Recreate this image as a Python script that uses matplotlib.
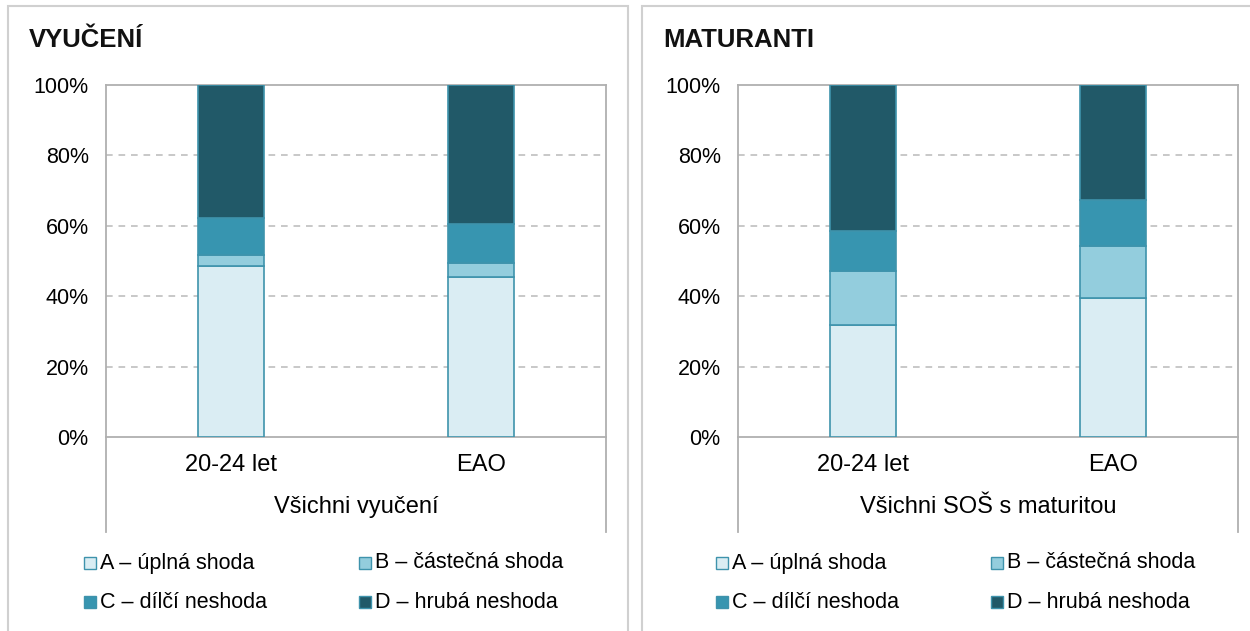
# plot_shoda.py
# two stacked 100% bar panels: VYUČENÍ / MATURANTI

import matplotlib
matplotlib.use("Agg")
import matplotlib.pyplot as plt
from matplotlib.patches import Rectangle
from matplotlib.lines import Line2D
import matplotlib.transforms as mtransforms

plt.rcParams['font.family'] = ['Liberation Sans', 'DejaVu Sans']

categories = ["20-24 let", "EAO"]
series = ["A – úplná shoda", "B – částečná shoda",
          "C – dílčí neshoda", "D – hrubá neshoda"]
colors = ["#DAEDF3", "#93CDDD", "#3795B0", "#215968"]
edge = "#3E93AC"

# shares in %, one list per series, order = categories
vyuc_A = [48.6, 45.5]
vyuc_B = [3.1, 3.9]
vyuc_C = [10.5, 11.1]
vyuc_D = [37.8, 39.5]

mat_A = [31.8, 39.5]
mat_B = [15.4, 14.8]
mat_C = [11.3, 13.0]
mat_D = [41.5, 32.7]

panels = [
    ("VYUČENÍ", "Všichni vyučení", [vyuc_A, vyuc_B, vyuc_C, vyuc_D]),
    ("MATURANTI", "Všichni SOŠ s maturitou", [mat_A, mat_B, mat_C, mat_D]),
]
yticks = [0, 20, 40, 60, 80, 100]

W, H = 1250, 631
fig = plt.figure(figsize=(W / 100, H / 100), dpi=100)


def fx(x):
    return x / W


def fy(y):
    return 1 - y / H


grey = "#BFBFBF"

for i, (title, group, data) in enumerate(panels):
    px0 = 8 + i * 634      # panel frame left
    ax0 = 106 + i * 632    # plot area left

    # panel frame
    fig.patches.append(Rectangle((fx(px0), fy(640)), fx(620), fy(6) - fy(640),
                                 transform=fig.transFigure, fill=False,
                                 edgecolor="#D0D0D0", lw=1.5))
    fig.text(fx(px0 + 21), fy(40), title, fontsize=18.5, fontweight="bold",
             va="center", ha="left", color="#111111")

    ax = fig.add_axes([fx(ax0), fy(437), fx(500), fy(85) - fy(437)])
    bottom = [0, 0]
    for vals, col in zip(data, colors):
        ax.bar(range(len(categories)), vals, width=0.264, bottom=bottom,
               color=col, edgecolor=edge, linewidth=1.2, zorder=3)
        bottom = [b + v for b, v in zip(bottom, vals)]

    ax.set_xlim(-0.5, 1.5)
    ax.set_ylim(0, 100)
    ax.set_yticks(yticks)
    ax.set_yticklabels([f"{t}%" for t in yticks], fontsize=15.5)
    ax.tick_params(axis="y", length=0, pad=12.5)
    ax.set_xticks([])
    for t in yticks[1:-1]:
        ax.axhline(t, color=grey, lw=1.2, ls=(0, (4, 3.5)), zorder=1)
    for s in ax.spines.values():
        s.set_color("#B0B0B0")
        s.set_linewidth(1.3)

    # multi-level category axis
    trans = mtransforms.blended_transform_factory(ax.transData, ax.transAxes)
    for j, c in enumerate(categories):
        ax.text(j, -0.08, c, transform=trans, ha="center", va="center",
                fontsize=17)
    ax.text(0.5, -0.199, group, transform=ax.transAxes, ha="center",
            va="center", fontsize=17)
    for xa in (0, 1):
        ax.add_line(Line2D([xa, xa], [0, -0.27], transform=ax.transAxes,
                           color="#B0B0B0", lw=1.3, clip_on=False))

    # legend, 2 x 2
    for k, (name, col) in enumerate(zip(series, colors)):
        row, colm = divmod(k, 2)
        mx = ax0 - 22 + colm * 275
        my = 563 + row * 39
        fig.patches.append(Rectangle((fx(mx), fy(my + 6)), fx(12), fy(my - 6) - fy(my + 6),
                                     transform=fig.transFigure,
                                     facecolor=col, edgecolor=edge, lw=1))
        fig.text(fx(mx + 16), fy(my), name, fontsize=15.5, va="center", ha="left")

fig.savefig("out.png", dpi=100, facecolor="white")
